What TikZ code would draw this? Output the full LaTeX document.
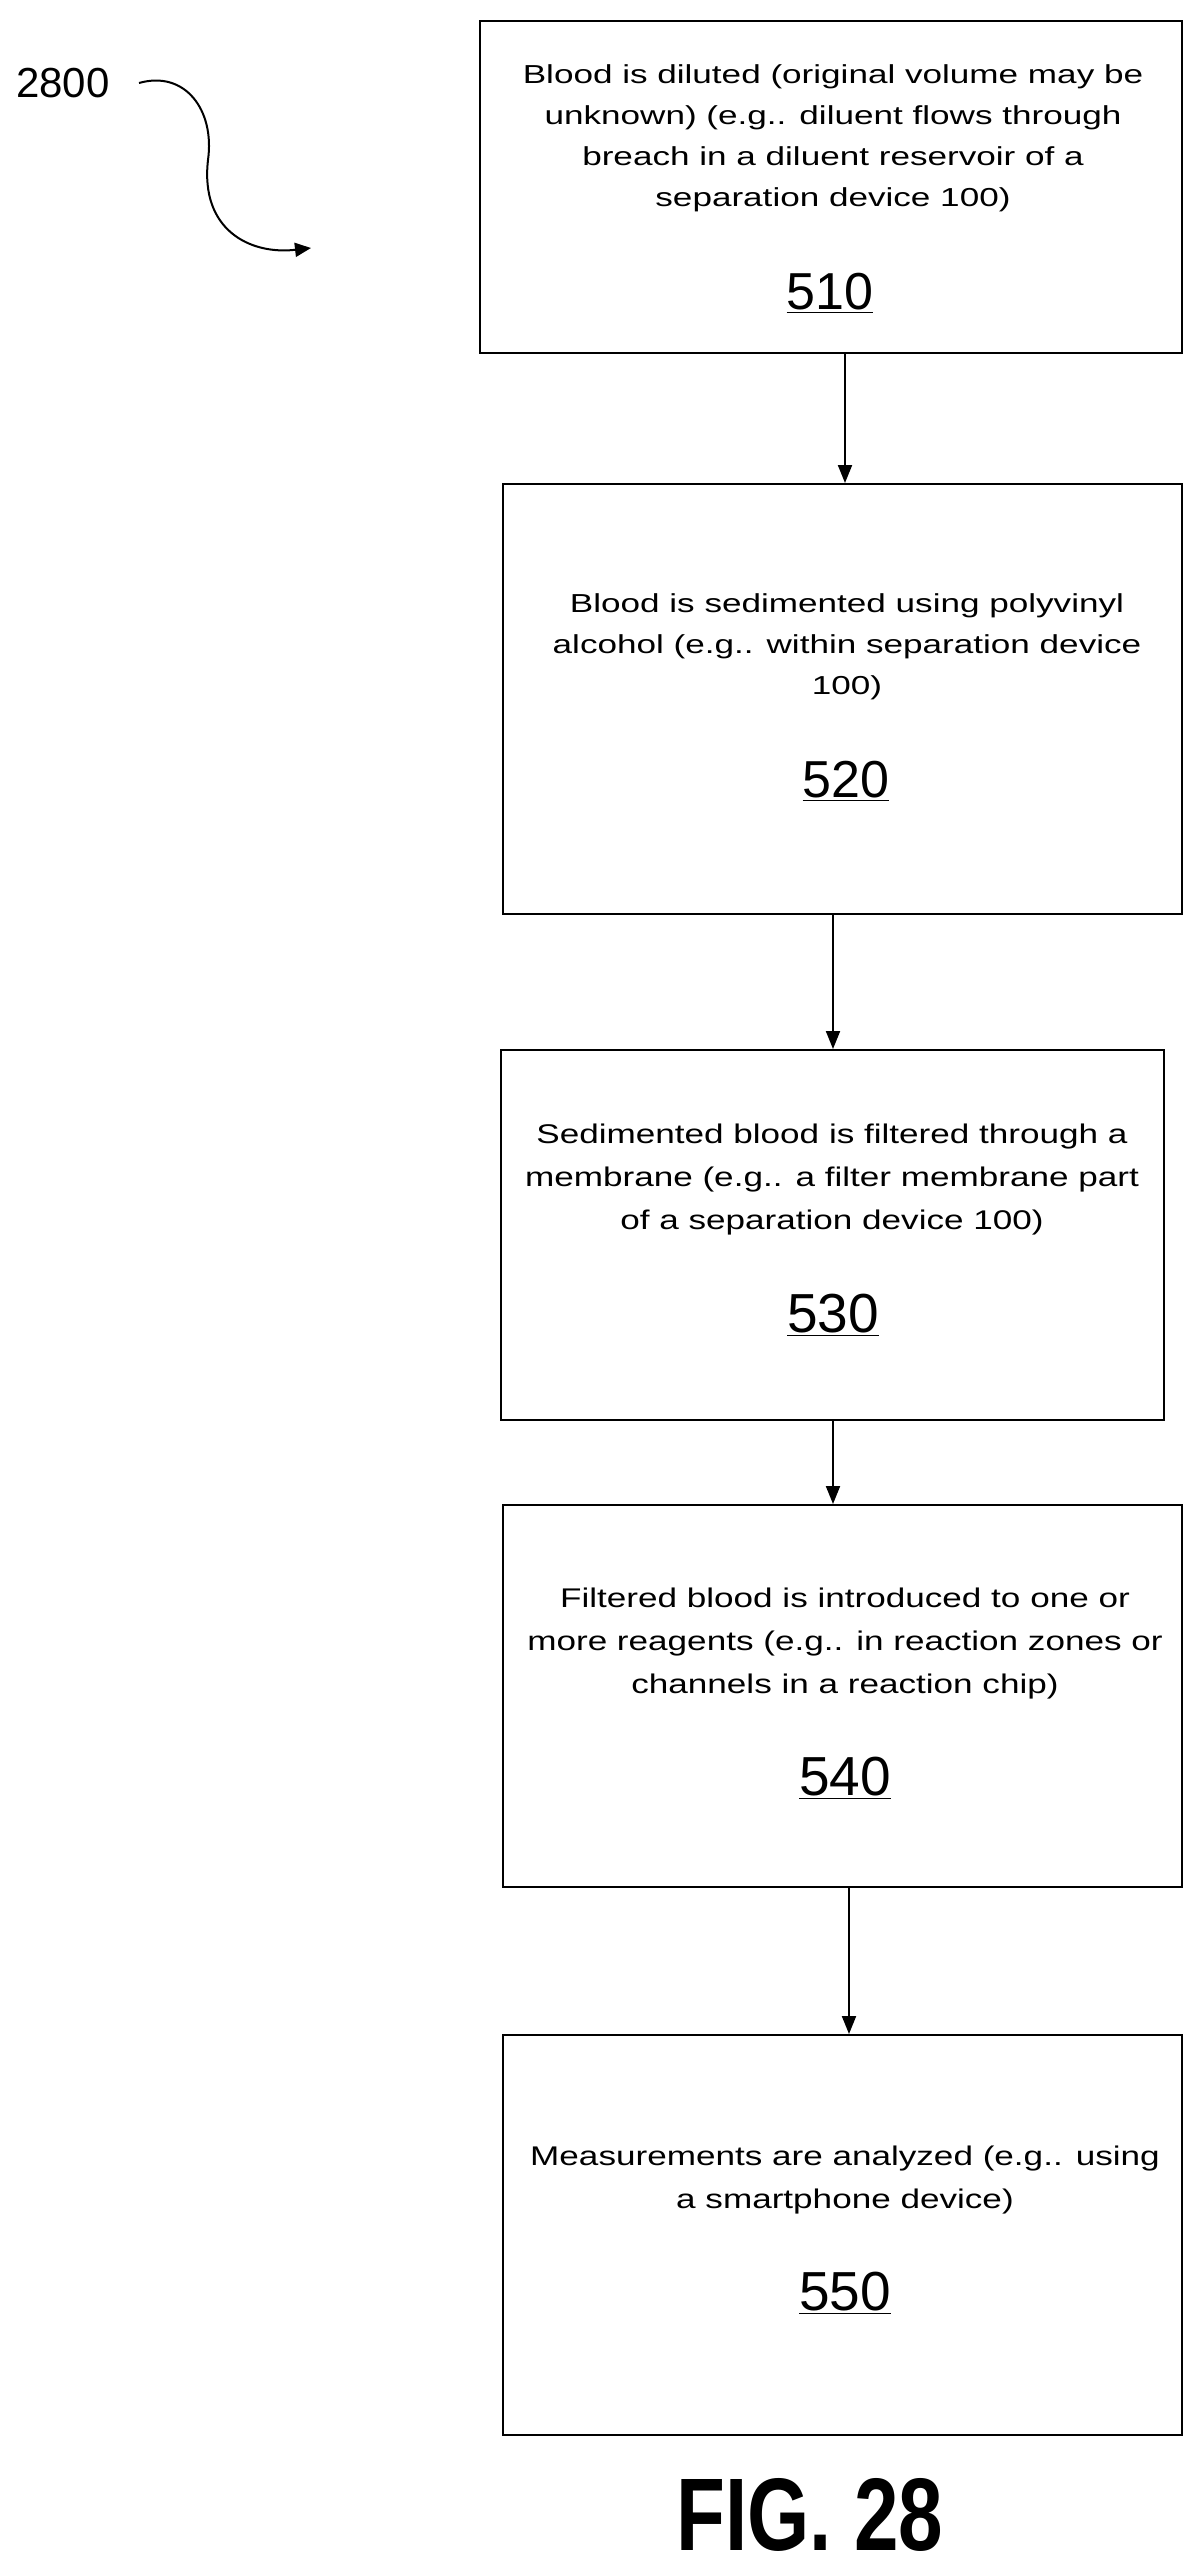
\documentclass[tikz,border=0pt]{standalone}
\usepackage{fontspec}
\setmainfont{Liberation Sans}
\newfontfamily\wideA[FakeStretch=1.35]{Liberation Sans}
\newfontfamily\wideB[FakeStretch=1.3]{Liberation Sans}
\usetikzlibrary{arrows.meta}
\begin{document}
\begin{tikzpicture}[x=1pt,y=-1pt,
  box/.style={draw,line width=2pt,inner sep=0pt},
  big/.style={font=\wideA\fontsize{26}{41}\selectfont,align=center},
  small/.style={font=\wideB\fontsize{27}{43}\selectfont,align=center},
  numA/.style={font=\fontsize{52}{52}\selectfont},
  numB/.style={font=\fontsize{55}{55}\selectfont},
  arr/.style={line width=2pt,-{Triangle[length=18pt,width=14pt]}}]
\useasboundingbox (0,0) rectangle (1204,2572);
% boxes
\node[box,minimum width=702pt,minimum height=332pt] (b510) at (831,187) {};
\node[box,minimum width=679pt,minimum height=430pt] (b520) at (842.5,699) {};
\node[box,minimum width=663pt,minimum height=370pt] (b530) at (832.5,1235) {};
\node[box,minimum width=679pt,minimum height=382pt] (b540) at (842.5,1696) {};
\node[box,minimum width=679pt,minimum height=400pt] (b550) at (842.5,2235) {};
% texts
\node[big] (t510) at (833,138) {Blood is diluted (original volume may be\\unknown) (e.g.. diluent flows through\\breach in a diluent reservoir of a\\separation device 100)};
\node[numA] (n510) at (830,293) {\underline{510}};
\node[big] (t520) at (847,647) {Blood is sedimented using polyvinyl\\alcohol (e.g.. within separation device\\100)};
\node[numA] (n520) at (846,781) {\underline{520}};
\node[small] (t530) at (832,1180) {Sedimented blood is filtered through a\\membrane (e.g.. a filter membrane part\\of a separation device 100)};
\node[numB] (n530) at (833,1315) {\underline{530}};
\node[small] (t540) at (845,1643) {Filtered blood is introduced to one or\\more reagents (e.g.. in reaction zones or\\channels in a reaction chip)};
\node[numB] (n540) at (845,1778) {\underline{540}};
\node[small] (t550) at (845,2180) {Measurements are analyzed (e.g.. using\\a smartphone device)};
\node[numB] (n550) at (845,2293) {\underline{550}};
% arrows
\coordinate (a1) at (845,0);
\coordinate (a2) at (833,0);
\coordinate (a4) at (849,0);
\draw[arr] (b510.south -| a1) -- (b520.north -| a1);
\draw[arr] (b520.south -| a2) -- (b530.north -| a2);
\draw[arr] (b530.south -| a2) -- (b540.north -| a2);
\draw[arr] (b540.south -| a4) -- (b550.north -| a4);
% label
\node[font=\fontsize{42}{42}\selectfont] (l2800) at (63,83) {2800};
\coordinate (c0) at (139,83);
\coordinate (c1) at (311,248);
\draw[line width=2pt,-{Triangle[length=16pt,width=14pt]}] (c0) .. controls (185,70) and (215,110) .. (208,160)
  .. controls (200,230) and (250,255) .. (c1);
\node[font=\bfseries\fontsize{80}{80}\selectfont] (fig) at (810,2515) {\scalebox{1}[1.29]{FIG. 28}};
\end{tikzpicture}
\end{document}
